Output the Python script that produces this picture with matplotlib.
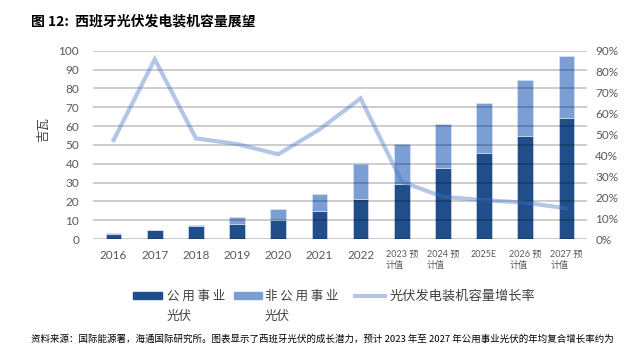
import matplotlib
matplotlib.use("Agg")
import matplotlib.pyplot as plt
from matplotlib.patches import Rectangle
from matplotlib.lines import Line2D

plt.rcParams['font.family'] = ['Lato', 'Noto Sans CJK SC', 'DejaVu Sans']

years = ["2016", "2017", "2018", "2019", "2020", "2021", "2022",
         "2023 预\n计值", "2024 预\n计值", "2025E", "2026 预\n计值", "2027 预\n计值"]
utility_pv = [2.8, 4.6, 7.0, 8.1, 10.1, 14.7, 21.4, 29.2, 37.5, 45.8, 54.9, 64.4]
non_utility_pv = [0.2, 0.2, 0.4, 3.4, 5.7, 9.4, 18.4, 21.4, 23.5, 26.2, 29.7, 32.6]
growth_rate = [0.473, 0.859, 0.481, 0.454, 0.405, 0.524, 0.672,
               0.274, 0.202, 0.186, 0.174, 0.147]
n_actual = 7  # years up to 2022 are actual figures

dark_blue = "#1F4E8A"
light_blue = "#7B9FD5"
line_blue = "#4472C4"
text_gray = "#595959"

fig = plt.figure(figsize=(6.35, 3.46), dpi=100)
ax = fig.add_axes([0.1465, 0.309, 0.7779, 0.5445])
ax2 = ax.twinx()

x = list(range(len(years)))
w = 0.38
ax.bar(x, utility_pv, width=w, color=dark_blue, edgecolor="#dfe6f2",
       linewidth=0.4, zorder=2)
ax.bar(x, non_utility_pv, width=w, bottom=utility_pv, color=light_blue,
       edgecolor="#dfe6f2", linewidth=0.4, zorder=2)

ax.set_ylim(0, 100)
ax.set_yticks(range(0, 101, 10))
ax.set_xlim(-0.5, len(years) - 0.5)
ax.yaxis.grid(True, color="black", alpha=0.25, linewidth=1.1, zorder=3)
ax.set_axisbelow(False)
for s in ax.spines.values():
    s.set_visible(False)
ax.tick_params(axis="both", length=0, colors=text_gray, labelsize=8.5)
ax.tick_params(axis="y", pad=10)
ax.tick_params(axis="x", pad=8)
ax.set_xticks(x)
ax.set_xticklabels(years)
for i, lab in enumerate(ax.get_xticklabels()):
    if i >= n_actual:
        lab.set_fontsize(6.5)
        lab.set_multialignment("left")
        lab.set_va("top")

ax2.plot(x, growth_rate, color=line_blue, alpha=0.4, linewidth=3.0,
         solid_joinstyle="miter", zorder=4)
ax2.set_ylim(0, 0.9)
ax2.set_yticks([i / 10 for i in range(10)])
ax2.set_yticklabels([f"{i * 10}%" for i in range(10)])
for s in ax2.spines.values():
    s.set_visible(False)
ax2.tick_params(axis="y", length=0, colors=text_gray, labelsize=8.5, pad=6)

fig.text(0.068, 0.627, "吉瓦", rotation=90, ha="center", va="center",
         color="#404040", fontsize=9, family=["Noto Sans CJK SC"])

W = 635.0
H = 346.0
def fx(px):
    return px / W
def fy(py):
    return 1 - py / H

# Title
fig.text(fx(31), fy(21), "图 12:  西班牙光伏发电装机容量展望", ha="left", va="center",
         fontsize=10, fontweight="bold", color="black",
         family=["Noto Sans CJK SC", "DejaVu Sans"])

# Legend drawn in figure coordinates
fig.patches.append(Rectangle((fx(133), fy(299)), fx(29), 7 / H,
                             transform=fig.transFigure, color=dark_blue))
fig.text(fx(167), fy(296), "公 用 事 业", ha="left", va="center", fontsize=9,
         color="#404040", family=["Noto Sans CJK SC"])
fig.text(fx(167), fy(316), "光伏", ha="left", va="center", fontsize=9,
         color="#404040", family=["Noto Sans CJK SC"])
fig.patches.append(Rectangle((fx(234), fy(299)), fx(28), 7 / H,
                             transform=fig.transFigure, color=light_blue))
fig.text(fx(265), fy(296), "非 公 用 事 业", ha="left", va="center", fontsize=9,
         color="#404040", family=["Noto Sans CJK SC"])
fig.text(fx(265), fy(316), "光伏", ha="left", va="center", fontsize=9,
         color="#404040", family=["Noto Sans CJK SC"])
fig.lines.append(Line2D([fx(355), fx(385)], [fy(296), fy(296)],
                        transform=fig.transFigure, color=line_blue, alpha=0.4,
                        linewidth=3.0))
fig.text(fx(390), fy(296), "光伏发电装机容量增长率", ha="left", va="center",
         fontsize=9.5, color="#404040", family=["Noto Sans CJK SC"])

# Source note
fig.text(fx(31), fy(339), "资料来源：国际能源署，海通国际研究所。图表显示了西班牙光伏的成长潜力，"
         "预计 2023 年至 2027 年公用事业光伏的年均复合增长率约为",
         ha="left", va="center", fontsize=6.8, color="black",
         family=["Noto Sans CJK SC", "DejaVu Sans"])

fig.savefig("out.png", dpi=100)
